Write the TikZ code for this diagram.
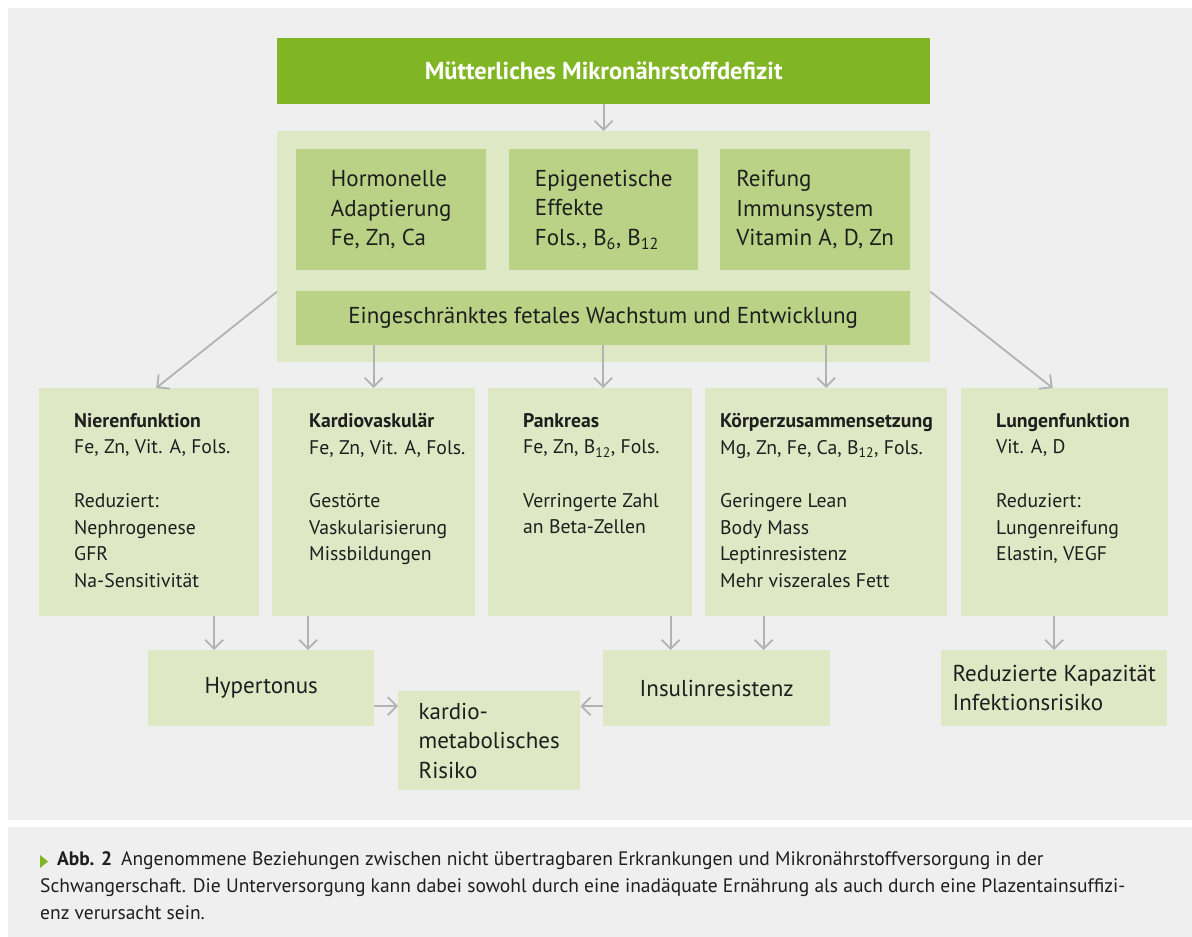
\documentclass[tikz,border=0pt]{standalone}
\usepackage{fontspec}
\setmainfont{PT Sans}
\usepackage{tikz}
\usetikzlibrary{arrows.meta,positioning}

\definecolor{bggray}{HTML}{EFEFEF}
\definecolor{darkgreen}{HTML}{80B523}
\definecolor{midgreen}{HTML}{B9D285}
\definecolor{lightgreen}{HTML}{DEE8C5}
\definecolor{arrowgray}{HTML}{B2B2B2}
\definecolor{textdark}{HTML}{1E1E1E}

\newcommand\fbig{\fontsize{23}{29.5}\selectfont}
\newcommand\fmid{\fontsize{19.7}{26.7}\selectfont}
\newcommand\fcap{\fontsize{19.5}{27}\selectfont}

\begin{document}
\begin{tikzpicture}[x=1pt,y=-1pt,
    box/.style={anchor=north west, fill=lightgreen, inner sep=0pt, align=left, text=textdark, font=\fbig},
    midbox/.style={box, fill=midgreen},
    txt/.style={anchor=north west, inner sep=0pt, align=left, text=textdark, font=\fmid},
    arr/.style={->, >={Straight Barb[length=9pt,width=18pt]}, draw=arrowgray, line width=1.8pt}]
    \useasboundingbox (0,0) rectangle (1192,937);
    \fill[white] (0,0) rectangle (1192,937);
    \fill[bggray] (8,8) rectangle (1192,820);
    \fill[bggray] (8,827) rectangle (1192,937);

    % oben
    \node[box, fill=darkgreen, minimum width=653, minimum height=66, align=center, text=white, font=\fontsize{24.5}{29}\selectfont\bfseries] (titel) at (277,38) {Mütterliches Mikronährstoffdefizit};
    \node[box, minimum width=653, minimum height=231] (panel) at (277,131) {};
    \node[midbox, minimum width=190, minimum height=121] (hormon) at (296,149) {Hormonelle\\Adaptierung\\Fe, Zn, Ca};
    \node[midbox, minimum width=189, minimum height=121] (epigen) at (509,149) {Epigenetische\\Effekte\\Fols., B\textsubscript{6}, B\textsubscript{12}};
    \node[midbox, minimum width=190, minimum height=121] (reifung) at (720,149) {Reifung\\Immunsystem\\Vitamin A, D, Zn};
    \node[midbox, minimum width=614, minimum height=54] (wachstum) at (296,291) {Eingeschränktes fetales Wachstum und Entwicklung};

    % Organe
    \node[box, minimum width=220, minimum height=228] (niere) at (39,388) {};
    \node[box, minimum width=203, minimum height=228] (kardio) at (272,388) {};
    \node[box, minimum width=204, minimum height=228] (pankreas) at (488,388) {};
    \node[box, minimum width=242, minimum height=228] (koerper) at (705,388) {};
    \node[box, minimum width=207, minimum height=228] (lunge) at (961,388) {};

    \node[txt] (nieretxt) at ([xshift=35pt,yshift=-25pt]niere.north west) {\textbf{Nierenfunktion}\\Fe, Zn, Vit. A, Fols.\\[26.7pt]Reduziert:\\Nephrogenese\\GFR\\Na-Sensitivität};
    \node[txt] (kardiotxt) at ([xshift=37pt,yshift=-25pt]kardio.north west) {\textbf{Kardiovaskulär}\\Fe, Zn, Vit. A, Fols.\\[26.7pt]Gestörte\\Vaskularisierung\\Missbildungen};
    \node[txt] (pankreastxt) at ([xshift=35pt,yshift=-25pt]pankreas.north west) {\textbf{Pankreas}\\Fe, Zn, B\textsubscript{12}, Fols.\\[26.7pt]Verringerte Zahl\\an Beta-Zellen};
    \node[txt] (koerpertxt) at ([xshift=15pt,yshift=-25pt]koerper.north west) {\textbf{Körperzusammensetzung}\\Mg, Zn, Fe, Ca, B\textsubscript{12}, Fols.\\[26.7pt]Geringere Lean\\Body Mass\\Leptinresistenz\\Mehr viszerales Fett};
    \node[txt] (lungetxt) at ([xshift=35pt,yshift=-25pt]lunge.north west) {\textbf{Lungenfunktion}\\Vit. A, D\\[26.7pt]Reduziert:\\Lungenreifung\\Elastin, VEGF};

    % Folgen
    \node[box, minimum width=226, minimum height=76] (hyper) at (148,650) {Hypertonus};
    \node[box, minimum width=227, minimum height=76] (insulin) at (603,650) {Insulinresistenz};
    \node[box, minimum width=226, minimum height=76] (kapazitaet) at (941,650) {Reduzierte Kapazität\\Infektionsrisiko};
    \node[box, minimum width=182, minimum height=99] (risiko) at (398,691) {kardio-\\metabolisches\\Risiko};

    % Pfeile
    \draw[arr] (titel) -- (panel);
    \draw[arr] ([yshift=-45pt]panel.west) -- ([xshift=7pt]niere.north);
    \draw[arr] ([yshift=-45pt]panel.east) -- ([xshift=-12pt]lunge.north);
    \draw[arr] (wachstum.south -| kardio.north) -- (kardio.north);
    \draw[arr] (wachstum.south) -- (wachstum.south |- pankreas.north);
    \draw[arr] (wachstum.south -| koerper.north) -- (koerper.north);

    \coordinate (h1) at ([xshift=-47pt]hyper.north);
    \coordinate (h2) at ([xshift=47pt]hyper.north);
    \coordinate (i1) at ([xshift=-46pt]insulin.north);
    \coordinate (i2) at ([xshift=47pt]insulin.north);
    \draw[arr] (h1 |- niere.south) -- (h1);
    \draw[arr] (h2 |- kardio.south) -- (h2);
    \draw[arr] (i1 |- pankreas.south) -- (i1);
    \draw[arr] (i2 |- koerper.south) -- (i2);
    \draw[arr] (kapazitaet.north |- lunge.south) -- (kapazitaet.north);

    \coordinate (hr) at ([yshift=-18pt]hyper.east);
    \coordinate (ir) at ([yshift=-18pt]insulin.west);
    \draw[arr] (hr) -- (hr -| risiko.west);
    \draw[arr] (ir) -- (ir -| risiko.east);

    % Legende
    \node[txt, font=\fcap] (legende) at (40,851) {\hspace*{17pt}\textbf{Abb. 2}\hspace{9pt}Angenommene Beziehungen zwischen nicht übertragbaren Erkrankungen und Mikronährstoffversorgung in der\\Schwangerschaft. Die Unterversorgung kann dabei sowohl durch eine inadäquate Ernährung als auch durch eine Plazentainsuffizi-\\enz verursacht sein.};
    \fill[darkgreen] ([yshift=-4pt]legende.north west) -- ++(0,13) -- ++(8,-6.5) -- cycle;
\end{tikzpicture}
\end{document}
